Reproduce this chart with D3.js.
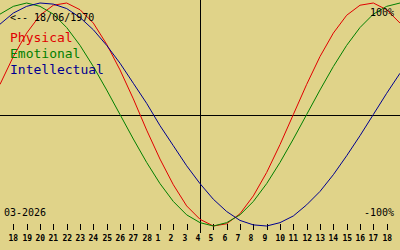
<!DOCTYPE html>
<html>
<head>
<meta charset="utf-8">
<script src="https://cdn.jsdelivr.net/npm/d3@7"></script>
<style>
  html, body { margin: 0; padding: 0; background: #e0d389; }
  svg { display: block; }
  text { font-family: "DejaVu Sans Mono", monospace; }
</style>
</head>
<body>
<svg id="chart" width="400" height="250"></svg>
<script>
// Day tick labels (18 Feb .. 18 Mar 2026)
const dayLabels = ["18","19","20","21","22","23","24","25","26","27","28",
  "1","2","3","4","5","6","7","8","9","10","11","12","13","14","15","16","17","18"];
// Daily values from 17 Feb to 19 Mar (31 points), range -1..1
const physical = [0.27,0.52,0.73,0.89,0.98,1.00,0.94,0.82,0.63,0.40,0.14,-0.14,-0.40,-0.63,-0.82,-0.94,
  -1.00,-0.98,-0.89,-0.73,-0.52,-0.27,0.00,0.27,0.52,0.73,0.89,0.98,1.00,0.94,0.82];
const emotional = [0.90,0.97,1.00,0.97,0.90,0.78,0.62,0.43,0.22,0.00,-0.22,-0.43,-0.62,-0.78,-0.90,-0.97,
  -1.00,-0.97,-0.90,-0.78,-0.62,-0.43,-0.22,0.00,0.22,0.43,0.62,0.78,0.90,0.97,1.00];
const intellectual = [0.81,0.91,0.97,1.00,0.99,0.95,0.87,0.76,0.62,0.46,0.28,0.10,-0.10,-0.28,-0.46,-0.62,
  -0.76,-0.87,-0.95,-0.99,-1.00,-0.97,-0.91,-0.81,-0.69,-0.54,-0.37,-0.19,0.00,0.19,0.37];
const seriesNames = ["Physical","Emotional","Intellectual"];
const seriesColors = ["#e00000","#007f00","#000090"];
const birthLabel = "<-- 18/06/1970";
const monthLabel = "03-2026";
const topLabel = "100%";
const bottomLabel = "-100%";
const todayIndex = 15; // 4 Mar

const svg = d3.select("#chart");
const W = 400, H = 250;
svg.append("rect").attr("width", W).attr("height", H).attr("fill", "#e0d389");

const x = d3.scaleLinear().domain([0, 30]).range([0, W]);
const y = d3.scaleLinear().domain([-1, 1]).range([226, 3]);

// axes lines
const zeroY = Math.round(y(0)) + 0.5;
svg.append("line").attr("x1", 0).attr("x2", W).attr("y1", zeroY).attr("y2", zeroY)
  .attr("stroke", "#000").attr("stroke-width", 1);
const todayX = Math.round(x(todayIndex)) + 0.5;
svg.append("line").attr("x1", todayX).attr("x2", todayX).attr("y1", 0).attr("y2", 233)
  .attr("stroke", "#000").attr("stroke-width", 1);

// ticks + labels
const tickG = svg.append("g");
dayLabels.forEach((d, i) => {
  const tx = Math.round(x(i + 1)) + 0.5;
  tickG.append("line").attr("x1", tx).attr("x2", tx).attr("y1", 224).attr("y2", 230)
    .attr("stroke", "#000").attr("stroke-width", 1);
  tickG.append("text").attr("x", tx - 5).attr("y", 241)
    .attr("font-size", "8px").attr("font-weight", "bold").attr("fill", "#000").text(d);
});

// curves
const line = d3.line().x((d, i) => x(i)).y(d => y(d));
[physical, emotional, intellectual].forEach((s, k) => {
  svg.append("path").datum(s).attr("d", line).attr("fill", "none")
    .attr("stroke", seriesColors[k]).attr("stroke-width", 1);
});

// texts
svg.append("text").attr("x", 10).attr("y", 21).attr("font-size", "10px").attr("fill", "#000").text(birthLabel);
seriesNames.forEach((n, k) => {
  svg.append("text").attr("x", 10).attr("y", 42 + k * 16).attr("font-size", "13px")
    .attr("fill", seriesColors[k]).text(n);
});
svg.append("text").attr("x", 370).attr("y", 16).attr("font-size", "10px").attr("fill", "#000").text(topLabel);
svg.append("text").attr("x", 364).attr("y", 216).attr("font-size", "10px").attr("fill", "#000").text(bottomLabel);
svg.append("text").attr("x", 4).attr("y", 216).attr("font-size", "10px").attr("fill", "#000").text(monthLabel);
</script>
</body>
</html>
